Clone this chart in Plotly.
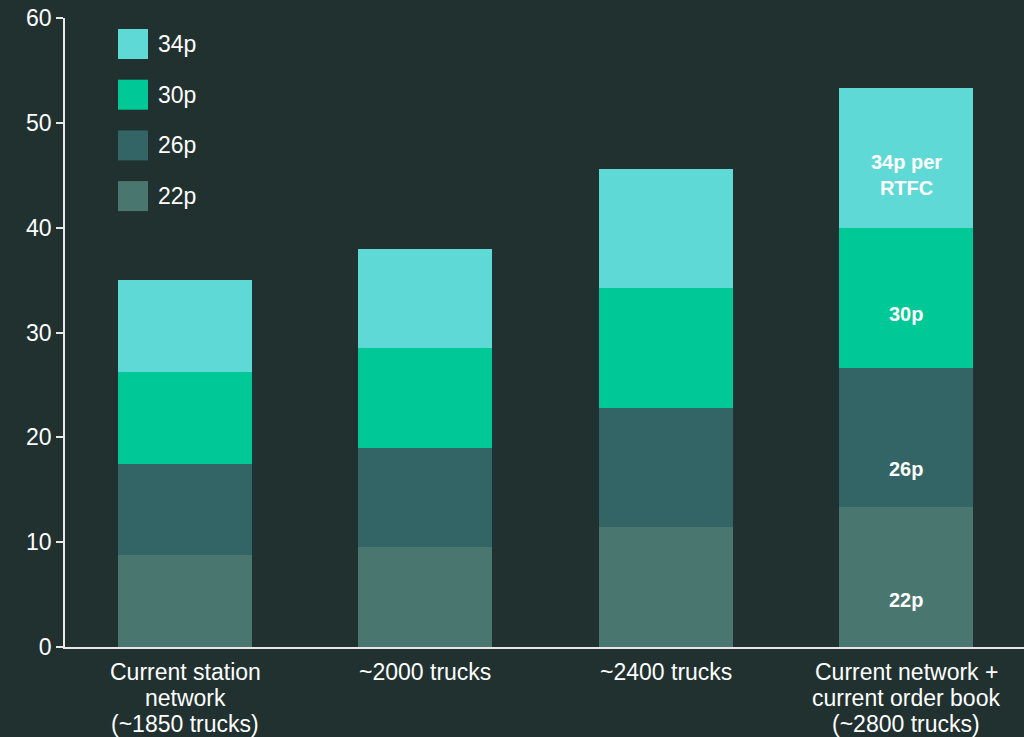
import plotly.graph_objects as go

categories = ["Current station<br>network<br>(~1850 trucks)", "~2000 trucks", "~2400 trucks",
              "Current network +<br>current order book<br>(~2800 trucks)"]
series_names = ["22p", "26p", "30p", "34p"]
v22 = [8.75, 9.5, 11.4, 13.33]
v26 = [8.75, 9.5, 11.4, 13.33]
v30 = [8.75, 9.5, 11.4, 13.33]
v34 = [8.75, 9.5, 11.4, 13.33]
# labels shown on the last bar only
bar_labels = {"22p": "22p", "26p": "26p", "30p": "30p", "34p": "34p per<br>RTFC"}
colors = {"22p": "#4a7670", "26p": "#336466", "30p": "#00c896", "34p": "#5fd9d6"}
values = {"22p": v22, "26p": v26, "30p": v30, "34p": v34}
# vertical placement of each label inside its segment (fraction of segment height)
label_frac = {"22p": 0.336, "26p": 0.274, "30p": 0.383, "34p": 0.375}

BG = "#213130"
FONT = "Liberation Sans, Arial"
W, H = 1024, 737
ml, mr, mt, mb = 65, 0, 18, 90
pw, ph = W - ml - mr, H - mt - mb

fig = go.Figure()
for name in series_names:
    fig.add_trace(go.Bar(
        x=categories, y=values[name], name=name, marker_color=colors[name],
        marker_line_width=0, showlegend=False, hoverinfo="skip"))

shapes, annotations = [], []

# segment labels on the last bar
base = 0.0
last = len(categories) - 1
for name in series_names:
    v = values[name][last]
    annotations.append(dict(xref="x", yref="y", x=categories[last], y=base + v * label_frac[name],
                            text="<b>" + bar_labels[name] + "</b>", showarrow=False,
                            xanchor="center", yanchor="middle",
                            font=dict(family=FONT, size=20, color="white")))
    base += v

# custom legend (top-left), 34p first
for i, name in enumerate(reversed(series_names)):
    top_px = 29 + i * 50.7
    x0 = (118 - ml) / pw
    x1 = (148 - ml) / pw
    y1 = (H - mb - top_px) / ph
    y0 = (H - mb - top_px - 30) / ph
    shapes.append(dict(type="rect", xref="paper", yref="paper", x0=x0, x1=x1, y0=y0, y1=y1,
                       fillcolor=colors[name], line_width=0))
    annotations.append(dict(xref="paper", yref="paper", x=(156 - ml) / pw, y=(y0 + y1) / 2,
                            text=name, showarrow=False, xanchor="left", yanchor="middle",
                            font=dict(family=FONT, size=23, color="white")))

# category labels, one line at a time (tight line spacing)
for cat in categories:
    for j, line in enumerate(cat.split("<br>")):
        annotations.append(dict(xref="x", yref="y", x=cat, y=0, text=line, showarrow=False,
                                xanchor="center", yanchor="middle", yshift=-(25 + 26 * j),
                                font=dict(family=FONT, size=23, color="white")))

fig.update_layout(
    barmode="stack", bargap=0.442,
    width=W, height=H, margin=dict(l=ml, r=mr, t=mt, b=mb),
    paper_bgcolor=BG, plot_bgcolor=BG,
    font=dict(family=FONT, size=23, color="white"),
    shapes=shapes, annotations=annotations,
    xaxis=dict(showgrid=False, showline=True, linecolor="#e8e8e8", linewidth=1.5,
               ticks="", showticklabels=False, zeroline=False, range=[-0.5, 3.491]),
    yaxis=dict(range=[0, 60], dtick=10, showgrid=False, showline=True, linecolor="#e8e8e8",
               linewidth=1.5, ticks="outside", ticklen=7, tickcolor="#e8e8e8", tickwidth=1.5,
               tickfont=dict(family=FONT, size=23, color="white"), zeroline=False),
)

fig.write_html("out.html", config={"displayModeBar": False},
               post_script="document.body.style.margin='0';")
